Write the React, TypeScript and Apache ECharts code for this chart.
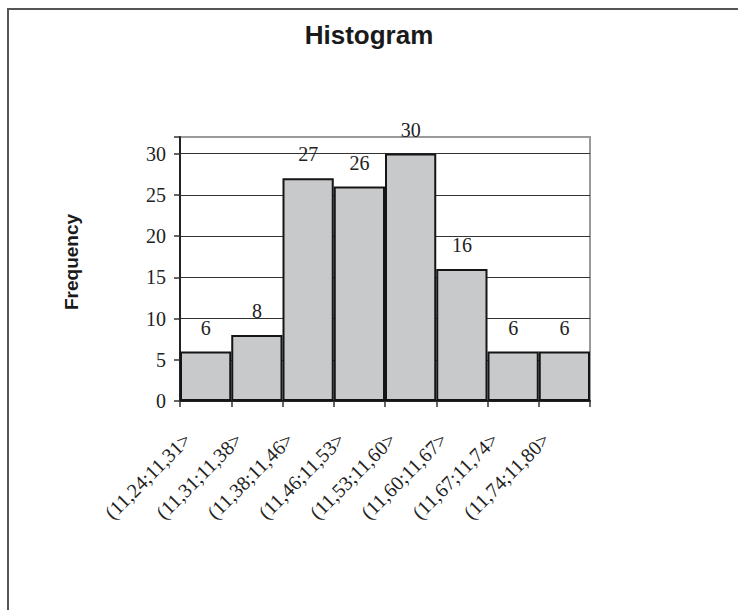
import React, { useEffect, useRef } from "react";
import * as echarts from "echarts";

const categories = [
  "(11,24;11,31>",
  "(11,31;11,38>",
  "(11,38;11,46>",
  "(11,46;11,53>",
  "(11,53;11,60>",
  "(11,60;11,67>",
  "(11,67;11,74>",
  "(11,74;11,80>",
];
const frequencies = [6, 8, 27, 26, 30, 16, 6, 6];
const chartTitle = "Histogram";
const yAxisTitle = "Frequency";

const SERIF = "'Liberation Serif', 'Times New Roman', serif";
const SANS = "'Liberation Sans', Arial, sans-serif";

export default function App() {
  const ref = useRef<HTMLDivElement>(null);
  useEffect(() => {
    document.body.style.margin = "0";
    const chart = echarts.init(ref.current!, null, { renderer: "svg" });
    chart.setOption({
      animation: false,
      backgroundColor: "#ffffff",
      grid: {
        left: 180,
        right: 148,
        top: 137,
        bottom: 209,
        show: true,
        borderColor: "#9a9a9a",
        borderWidth: 2,
        backgroundColor: "transparent",
      },
      graphic: [
        {
          type: "polyline",
          shape: { points: [[8, 610], [8, 9], [738, 9]] },
          style: { stroke: "#555", lineWidth: 2, fill: "none" },
          silent: true,
        },
        {
          type: "text",
          x: 369,
          y: 35,
          style: {
            text: chartTitle,
            font: `bold 26px ${SANS}`,
            fill: "#1a1a1a",
            textAlign: "center",
            textVerticalAlign: "middle",
          },
        },
        {
          type: "text",
          x: 71,
          y: 262,
          rotation: Math.PI / 2,
          style: {
            text: yAxisTitle,
            font: `bold 19px ${SANS}`,
            fill: "#1a1a1a",
            textAlign: "center",
            textVerticalAlign: "middle",
          },
        },
      ],
      xAxis: {
        type: "category",
        data: categories,
        boundaryGap: true,
        axisLine: { show: true, lineStyle: { color: "#222", width: 2 } },
        axisTick: { show: true, alignWithLabel: false, length: 6, lineStyle: { color: "#333", width: 1.5 } },
        splitLine: { show: false },
        axisLabel: {
          interval: 0,
          rotate: 45,
          margin: 17,
          padding: [0, 26, 0, 0],
          fontFamily: SERIF,
          fontSize: 20,
          color: "#222",
        },
      },
      yAxis: {
        type: "value",
        min: 0,
        max: 32,
        interval: 5,
        axisLine: { show: true, lineStyle: { color: "#222", width: 2 } },
        axisTick: { show: true, length: 6, lineStyle: { color: "#333", width: 1.5 } },
        splitLine: {
          show: true,
          showMinLine: false,
          showMaxLine: false,
          lineStyle: { color: "#333", width: 1 },
        },
        axisLabel: {
          margin: 14,
          fontFamily: SERIF,
          fontSize: 20,
          color: "#222",
          formatter: (v: number) => (v % 5 === 0 ? String(v) : ""),
        },
      },
      series: [
        {
          type: "bar",
          data: frequencies,
          barCategoryGap: "0%",
          itemStyle: { color: "#c8c9cb", borderColor: "#151515", borderWidth: 2 },
          label: {
            show: true,
            position: "top",
            distance: 14,
            fontFamily: SERIF,
            fontSize: 20,
            color: "#222",
          },
        },
      ],
    });
    return () => chart.dispose();
  }, []);
  return <div ref={ref} style={{ width: 738, height: 610 }} />;
}
